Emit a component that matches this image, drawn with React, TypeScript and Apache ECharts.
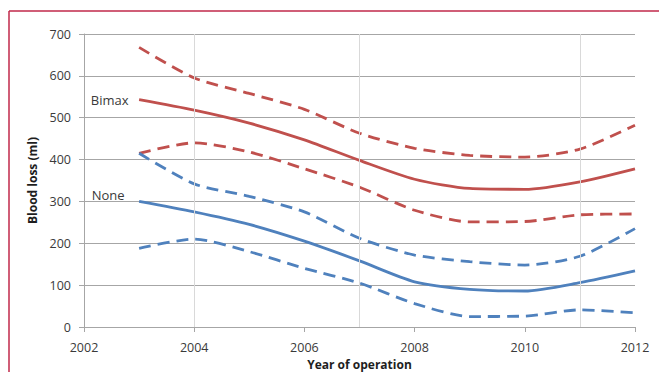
import React, { useEffect, useRef } from "react";
import * as echarts from "echarts";

// Year of operation and blood loss (ml): mean and upper/lower bounds per group
const years = [2003, 2004, 2005, 2006, 2007, 2008, 2009, 2010, 2011, 2012];
const bimaxMean = [543, 518, 487, 447, 398, 353, 331, 329, 347, 378];
const bimaxUpper = [668, 595, 558, 520, 463, 427, 410, 406, 425, 482];
const bimaxLower = [415, 440, 418, 378, 334, 279, 251, 252, 268, 270];
const noneMean = [300, 275, 245, 205, 158, 108, 90, 86, 106, 134];
const noneUpper = [415, 342, 312, 275, 212, 172, 156, 148, 169, 235];
const noneLower = [188, 210, 180, 140, 105, 56, 25, 26, 41, 34];
const refYears = [2004, 2007, 2011];

const RED = "#c0504d";
const BLUE = "#4f81bd";
const TEXT = "#3a3a3a";
const FONT = "'Open Sans', 'Noto Sans', sans-serif";

const pairs = (vals: number[]) => years.map((y, i) => [y, vals[i]]);

function lineSeries(
  name: string,
  vals: number[],
  color: string,
  dashed: boolean,
  label?: { text: string; offset: [number, number] }
) {
  const data: any[] = pairs(vals);
  if (label) {
    data[0] = {
      value: data[0],
      label: {
        show: true,
        position: "left",
        distance: 0,
        offset: label.offset,
        formatter: label.text,
        color: TEXT,
        fontSize: 13,
        fontFamily: FONT,
      },
    };
  }
  return {
    name,
    type: "line",
    data,
    smooth: 0.25,
    showSymbol: true,
    symbol: "circle",
    symbolSize: 1,
    itemStyle: { color: "rgba(0,0,0,0)" },
    lineStyle: { color, width: 2.8, type: dashed ? [12, 7] : "solid", cap: "butt" },
    z: 3,
  };
}

export default function App() {
  const ref = useRef<HTMLDivElement>(null);

  useEffect(() => {
    if (!ref.current) return;
    const chart = echarts.init(ref.current, null, { renderer: "svg" });
    chart.setOption({
      animation: false,
      backgroundColor: "#ffffff",
      grid: {
        left: 84,
        right: 24,
        top: 34,
        bottom: 45,
        containLabel: false,
        outerBoundsMode: "none",
      },
      xAxis: {
        type: "value",
        min: 2002,
        max: 2012,
        interval: 2,
        name: "Year of operation",
        nameLocation: "middle",
        nameGap: 30,
        nameTextStyle: { color: "#1e1e1e", fontWeight: "bold", fontSize: 12, fontFamily: FONT },
        axisLine: { show: true, lineStyle: { color: "#a6a6a6", width: 1 } },
        axisTick: { show: true, length: 5, lineStyle: { color: "#a6a6a6" } },
        axisLabel: { color: TEXT, fontSize: 12.5, margin: 14, fontFamily: FONT, formatter: (v: number) => String(v) },
        splitLine: { show: false },
      },
      yAxis: {
        type: "value",
        min: 0,
        max: 700,
        interval: 100,
        name: "Blood loss (ml)",
        nameLocation: "middle",
        nameGap: 44,
        nameTextStyle: { color: "#1e1e1e", fontWeight: "bold", fontSize: 12, fontFamily: FONT },
        axisLine: { show: true, lineStyle: { color: "#a6a6a6", width: 1 } },
        axisTick: { show: true, length: 5, lineStyle: { color: "#a6a6a6" } },
        axisLabel: { color: TEXT, fontSize: 12.5, margin: 13, fontFamily: FONT },
        splitLine: { show: true, lineStyle: { color: "#a6a6a6", width: 1 } },
      },
      graphic: [
        {
          type: "line",
          shape: { x1: 9, y1: 11, x2: 659, y2: 11 },
          style: { stroke: "#c0284a", lineWidth: 1.5 },
        },
        {
          type: "line",
          shape: { x1: 9, y1: 11, x2: 9, y2: 372 },
          style: { stroke: "#c0284a", lineWidth: 1.5 },
        },
      ],
      series: [
        {
          name: "ref",
          type: "line",
          data: [],
          markLine: {
            silent: true,
            symbol: "none",
            label: { show: false },
            lineStyle: { color: "#d9d9d9", width: 1, type: "solid" },
            data: refYears.map((y) => ({ xAxis: y })),
          },
          z: 1,
        },
        lineSeries("Bimax upper", bimaxUpper, RED, true),
        lineSeries("Bimax", bimaxMean, RED, false, { text: "Bimax", offset: [-10, 0] }),
        lineSeries("Bimax lower", bimaxLower, RED, true),
        lineSeries("None upper", noneUpper, BLUE, true),
        lineSeries("None", noneMean, BLUE, false, { text: "None", offset: [-14, -6] }),
        lineSeries("None lower", noneLower, BLUE, true),
      ],
    });
    return () => chart.dispose();
  }, []);

  return (
    <div
      ref={ref}
      style={{ position: "fixed", left: 0, top: 0, width: 659, height: 372 }}
    />
  );
}
